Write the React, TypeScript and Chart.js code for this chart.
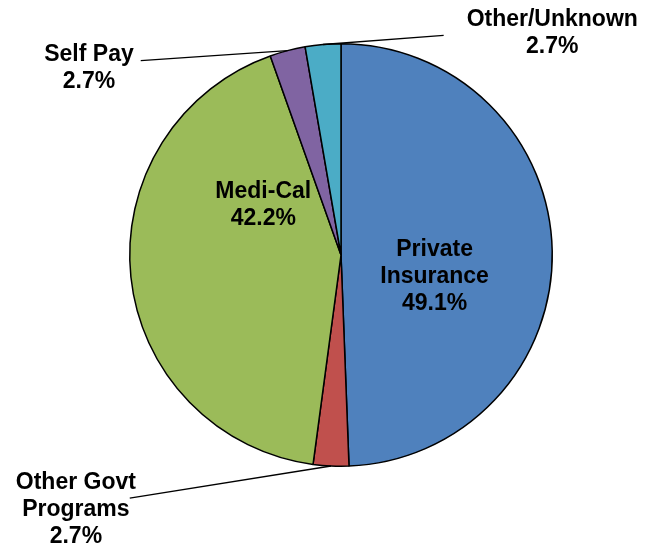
import React, { useEffect, useRef } from "react";
import { Chart, registerables } from "chart.js";

Chart.register(...registerables);

const categories = ["Private Insurance", "Other Govt Programs", "Medi-Cal", "Self Pay", "Other/Unknown"];
const shares = [49.1, 2.7, 42.2, 2.7, 2.7];
const labelLines = [
  ["Private", "Insurance", "49.1%"],
  ["Other Govt", "Programs", "2.7%"],
  ["Medi-Cal", "42.2%"],
  ["Self Pay", "2.7%"],
  ["Other/Unknown", "2.7%"],
];
const colors = ["#4F81BD", "#C0504D", "#9BBB59", "#8064A2", "#4BACC6"];

// label placement, in units of the pie radius relative to the pie centre
type Place = { tx: number; ty: number; lx?: number; ly?: number };
const placements: Place[] = [
  { tx: 0.443, ty: 0.102 },
  { tx: -1.255, ty: 1.205, lx: -1.0, ly: 1.151 },
  { tx: -0.368, ty: -0.238 },
  { tx: -1.193, ty: -0.885, lx: -0.948, ly: -0.920 },
  { tx: 1.0, ty: -1.05, lx: 0.486, ly: -1.04 },
];

const labelPlugin = {
  id: "pieLabels",
  afterDraw(chart: any) {
    const ctx = chart.ctx as CanvasRenderingContext2D;
    const meta = chart.getDatasetMeta(0);
    ctx.save();
    ctx.font = "bold 23px 'Liberation Sans', Arial, sans-serif";
    ctx.fillStyle = "#000";
    ctx.textAlign = "center";
    ctx.textBaseline = "middle";
    const lh = 27;
    meta.data.forEach((arc: any, i: number) => {
      const { x, y, outerRadius, startAngle, endAngle } = arc.getProps(
        ["x", "y", "outerRadius", "startAngle", "endAngle"],
        true
      );
      const p = placements[i];
      const lines = labelLines[i];
      const tx = x + p.tx * outerRadius;
      const ty = y + p.ty * outerRadius;
      const top = ty - ((lines.length - 1) * lh) / 2;
      lines.forEach((t, k) => ctx.fillText(t, tx, top + k * lh));
      if (p.lx !== undefined && p.ly !== undefined) {
        const mid = (startAngle + endAngle) / 2;
        const ex = x + Math.cos(mid) * outerRadius;
        const ey = y + Math.sin(mid) * outerRadius;
        ctx.beginPath();
        ctx.strokeStyle = "#000";
        ctx.lineWidth = 1.3;
        ctx.moveTo(x + p.lx * outerRadius, y + p.ly * outerRadius);
        ctx.lineTo(ex, ey);
        ctx.stroke();
      }
    });
    ctx.restore();
  },
};

export default function App() {
  const ref = useRef<HTMLCanvasElement | null>(null);
  useEffect(() => {
    if (!ref.current) return;
    const chart = new Chart(ref.current, {
      type: "pie",
      data: {
        labels: categories,
        datasets: [
          {
            data: shares,
            backgroundColor: colors,
            borderColor: "#000",
            borderWidth: 1.5,
          },
        ],
      },
      options: {
        responsive: false,
        animation: false,
        layout: { padding: { top: 43, bottom: 81, left: 129, right: 92 } },
        plugins: { legend: { display: false }, tooltip: { enabled: false } },
      },
      plugins: [labelPlugin],
    });
    return () => chart.destroy();
  }, []);
  return (
    <div style={{ position: "fixed", left: 0, top: 0, width: 645, height: 548, background: "#fff" }}>
      <canvas ref={ref} width={645} height={548} style={{ width: 645, height: 548, display: "block" }} />
    </div>
  );
}
